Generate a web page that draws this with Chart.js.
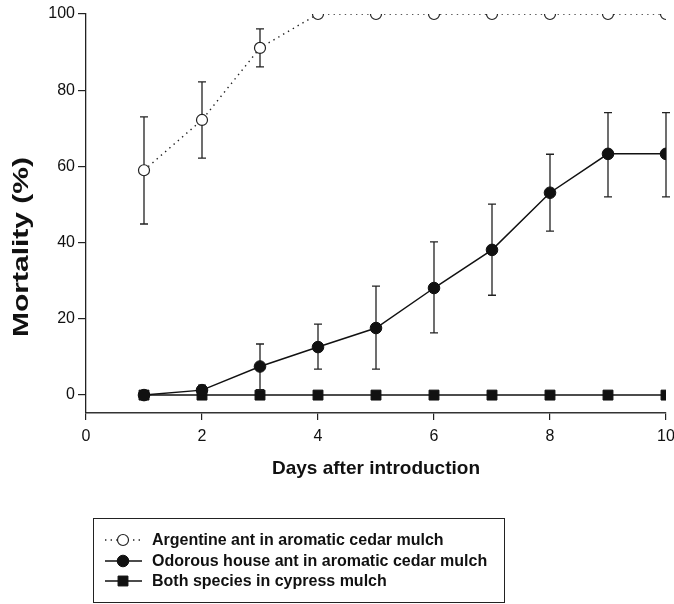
<!DOCTYPE html>
<html>
<head>
<meta charset="utf-8">
<script src="https://cdn.jsdelivr.net/npm/chart.js@4/dist/chart.umd.min.js"></script>
<style>
  html, body { margin: 0; padding: 0; background: #fff; }
  #wrap { width: 674px; height: 604px; position: relative; }
</style>
</head>
<body>
<div id="wrap"><canvas id="mortalityChart"></canvas></div>
<script>
// data
const days = [1, 2, 3, 4, 5, 6, 7, 8, 9, 10];
const xTicks = [0, 2, 4, 6, 8, 10];
const yTicks = [0, 20, 40, 60, 80, 100];

const seriesNames = [
  'Argentine ant in aromatic cedar mulch',
  'Odorous house ant in aromatic cedar mulch',
  'Both species in cypress mulch'
];

const argentineMean = [59, 72.2, 91.1, 100, 100, 100, 100, 100, 100, 100];
const argentineLow  = [44.9, 62.2, 86.1, null, null, null, null, null, null, null];
const argentineHigh = [73, 82.2, 96.1, null, null, null, null, null, null, null];

const odorousMean = [0, 1.3, 7.5, 12.6, 17.6, 28.1, 38.1, 53.1, 63.3, 63.3];
const odorousLow  = [null, 0, 1.4, 6.8, 6.8, 16.3, 26.2, 43, 52, 52];
const odorousHigh = [null, 2.6, 13.4, 18.6, 28.6, 40.2, 50.1, 63.2, 74.1, 74.1];

const cypressMean = [0, 0, 0, 0, 0, 0, 0, 0, 0, 0];

const xTitle = 'Days after introduction';
const yTitle = 'Mortality (%)';

const INK = '#111';
const FONT = '"Liberation Sans", Arial, Helvetica, sans-serif';

function pts(values) {
  return days.map((d, i) => ({ x: d, y: values[i] }));
}

// vertical error bars with caps, drawn under the markers
const errorBars = {
  id: 'errorBars',
  beforeDatasetsDraw(chart) {
    const { ctx } = chart;
    const xs = chart.scales.x, ys = chart.scales.y;
    ctx.save();
    ctx.strokeStyle = '#222';
    ctx.lineWidth = 1.3;
    chart.data.datasets.forEach(ds => {
      if (!ds.errLow) return;
      days.forEach((d, i) => {
        const lo = ds.errLow[i], hi = ds.errHigh[i];
        if (lo == null || hi == null) return;
        const px = xs.getPixelForValue(d);
        const pLo = ys.getPixelForValue(lo);
        const pHi = ys.getPixelForValue(hi);
        ctx.beginPath();
        ctx.moveTo(px, pLo); ctx.lineTo(px, pHi);
        ctx.moveTo(px - 4, pLo); ctx.lineTo(px + 4, pLo);
        ctx.moveTo(px - 4, pHi); ctx.lineTo(px + 4, pHi);
        ctx.stroke();
      });
    });
    ctx.restore();
  }
};

function drawMarker(ctx, ds, x, y) {
  ctx.save();
  ctx.fillStyle = ds.pointBackgroundColor;
  ctx.strokeStyle = ds.pointBorderColor;
  ctx.lineWidth = ds.pointBorderWidth;
  ctx.setLineDash([]);
  ctx.beginPath();
  if (ds.pointStyle === 'rect') {
    const s = Math.SQRT1_2 * ds.pointRadius;
    ctx.rect(x - s, y - s, 2 * s, 2 * s);
  } else {
    ctx.arc(x, y, ds.pointRadius, 0, Math.PI * 2);
  }
  ctx.fill();
  ctx.stroke();
  ctx.restore();
}

// axis titles and the boxed legend under the plot
const decorations = {
  id: 'decorations',
  afterDraw(chart) {
    const { ctx, chartArea } = chart;
    ctx.save();
    ctx.fillStyle = INK;
    ctx.textAlign = 'center';
    ctx.textBaseline = 'middle';

    ctx.font = 'bold 19px ' + FONT;
    ctx.fillText(xTitle, (chartArea.left + chartArea.right) / 2, 469);

    ctx.save();
    ctx.translate(22, 247);
    ctx.rotate(-Math.PI / 2);
    ctx.font = 'bold 22px ' + FONT;
    const w = ctx.measureText(yTitle).width;
    ctx.scale(180 / w, 1);
    ctx.fillText(yTitle, 0, 0);
    ctx.restore();

    // legend box
    ctx.strokeStyle = '#222';
    ctx.lineWidth = 1;
    ctx.strokeRect(93.5, 518.5, 411, 84);
    ctx.font = 'bold 16px ' + FONT;
    ctx.textAlign = 'left';
    const rows = [540, 561, 581];
    chart.data.datasets.forEach((ds, i) => {
      const y = rows[i];
      ctx.save();
      ctx.strokeStyle = ds.borderColor;
      ctx.lineWidth = ds.borderWidth;
      ctx.setLineDash(ds.borderDash || []);
      ctx.beginPath();
      ctx.moveTo(105, y); ctx.lineTo(142, y);
      ctx.stroke();
      ctx.restore();
      drawMarker(ctx, ds, 123, y);
      ctx.fillText(ds.label, 152, y + 1);
    });
    ctx.restore();
  }
};

const ctx = document.getElementById('mortalityChart').getContext('2d');
new Chart(ctx, {
  type: 'line',
  data: {
    datasets: [
      {
        label: seriesNames[0],
        data: pts(argentineMean),
        errLow: argentineLow,
        errHigh: argentineHigh,
        borderColor: '#222',
        borderWidth: 1.4,
        borderDash: [1.4, 4.2],
        pointStyle: 'circle',
        pointRadius: 5.5,
        pointBackgroundColor: '#fff',
        pointBorderColor: '#222',
        pointBorderWidth: 1.2
      },
      {
        label: seriesNames[1],
        data: pts(odorousMean),
        errLow: odorousLow,
        errHigh: odorousHigh,
        borderColor: INK,
        borderWidth: 1.5,
        pointStyle: 'circle',
        pointRadius: 5.8,
        pointBackgroundColor: INK,
        pointBorderColor: INK,
        pointBorderWidth: 1
      },
      {
        label: seriesNames[2],
        data: pts(cypressMean),
        borderColor: INK,
        borderWidth: 1.5,
        pointStyle: 'rect',
        pointRadius: 7,
        pointBackgroundColor: INK,
        pointBorderColor: INK,
        pointBorderWidth: 1
      }
    ]
  },
  options: {
    responsive: true,
    maintainAspectRatio: false,
    animation: false,
    layout: { padding: { left: 0, right: 7, top: 14, bottom: 151 } },
    elements: { line: { tension: 0 } },
    plugins: {
      legend: { display: false },
      tooltip: { enabled: false }
    },
    scales: {
      x: {
        type: 'linear',
        min: 0,
        max: 10,
        afterBuildTicks: (scale) => { scale.ticks = xTicks.map(v => ({ value: v })); },
        afterFit: (scale) => { scale.height = 40; scale.paddingLeft = 0; scale.paddingRight = 0; },
        grid: { display: true, drawOnChartArea: false, drawTicks: true, tickLength: 7, color: '#222', lineWidth: 1.2 },
        border: { display: true, color: '#333', width: 1.6 },
        ticks: { color: INK, padding: 7, font: { family: FONT, size: 16 }, maxRotation: 0 }
      },
      y: {
        min: -4.7,
        max: 100,
        afterBuildTicks: (scale) => { scale.ticks = yTicks.map(v => ({ value: v })); },
        afterFit: (scale) => { scale.width = 86; scale.paddingTop = 0; scale.paddingBottom = 0; },
        grid: { display: true, drawOnChartArea: false, drawTicks: true, tickLength: 8, color: '#222', lineWidth: 1.2 },
        border: { display: true, color: '#222', width: 1.3 },
        ticks: { color: INK, padding: 3, font: { family: FONT, size: 16 } }
      }
    }
  },
  plugins: [errorBars, decorations]
});
</script>
</body>
</html>
